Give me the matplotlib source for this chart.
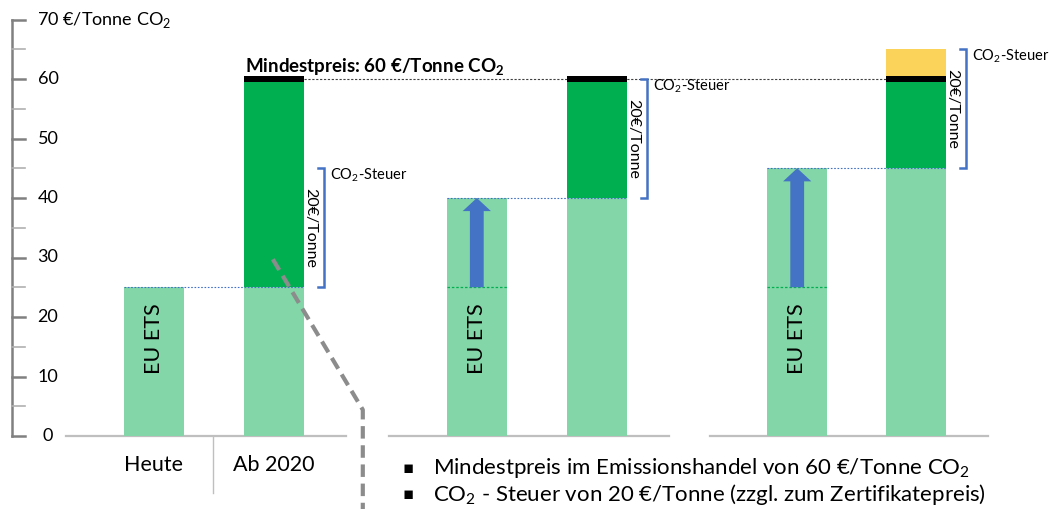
import matplotlib
matplotlib.use('Agg')
import matplotlib.pyplot as plt
import numpy as np

plt.rcParams['font.family'] = ['Lato', 'DejaVu Sans']
plt.rcParams['mathtext.fontset'] = 'custom'
plt.rcParams['mathtext.rm'] = 'Lato'
plt.rcParams['mathtext.bf'] = 'Lato:bold'

# data
categories = ["Heute", "Ab 2020"]
ets_price = [25, 25, 40, 40, 45, 45]      # EU ETS Zertifikatepreis
floor_price = [0, 60, 0, 60, 0, 60]       # Mindestpreis
tax_top = [0, 0, 0, 0, 0, 65]             # Steuer ueber Mindestpreis
ets_start = 25
tax = 20
yticks = [0, 10, 20, 30, 40, 50, 60]

# layout (axis units: 1 = distance between bars of one panel)
xpos = np.array([0, 1, 2.69, 3.69, 5.36, 6.35])
bar_w = 0.5
light = '#82D6A7'
dark = '#00B050'
yellow = '#FCD35A'
blue = '#4472C4'
gray = '#808080'

fig = plt.figure(figsize=(10.5, 5.09), dpi=100)
ax = fig.add_axes([0, 0, 1, 1])
ax.set_xlim(-154 / 120, (1050 - 154) / 120)
ax.set_ylim(-73 / 5.95, 436 / 5.95)
ax.axis('off')

# bars
ax.bar(xpos, ets_price, width=bar_w, color=light, zorder=2)
for i in range(len(xpos)):
    if floor_price[i] > 0:
        ax.bar(xpos[i], floor_price[i] - ets_price[i], bottom=ets_price[i],
               width=bar_w, color=dark, zorder=2)
        ax.bar(xpos[i], 0.95, bottom=floor_price[i] - 0.45, width=bar_w,
               color='black', zorder=3)
    if tax_top[i] > 0:
        ax.bar(xpos[i], tax_top[i] - floor_price[i] - 0.5,
               bottom=floor_price[i] + 0.5, width=bar_w, color=yellow, zorder=2)

# Mindestpreis line
ax.plot([xpos[1] + bar_w / 2, xpos[5] - bar_w / 2], [60, 60], color='#404040',
        linestyle=(0, (2, 1.5)), linewidth=0.8, zorder=1)
ax.text(xpos[1] - bar_w / 2 + 0.01, 61.0, r"Mindestpreis: 60 €/Tonne CO$_\mathbf{2}$",
        fontsize=13.5, fontweight='bold', ha='left', va='baseline')

for p in range(3):
    l, r = xpos[2 * p], xpos[2 * p + 1]
    # blue dotted level line
    ax.plot([l - bar_w / 2, r + bar_w / 2], [ets_price[2 * p]] * 2, color=blue,
            linestyle=(0, (1.5, 1.5)), linewidth=0.8, zorder=4)
    # baseline
    ax.plot([l - 0.73, r + 0.6], [0, 0], color='#BFBFBF', linewidth=1.6, zorder=1)
    # EU ETS label
    ax.text(l, 16.3, "EU ETS", rotation=90, fontsize=15.5, ha='center', va='center',
            zorder=5)
    # bracket for tax
    lo = ets_price[2 * p]
    hi = lo + tax
    bx = r + 0.42
    ax.plot([r + 0.365, bx, bx, r + 0.365], [hi, hi, lo, lo], color=blue,
            linewidth=1.8, solid_joinstyle='miter', zorder=4)
    ax.text(bx + 0.05, hi + 0.3, r"CO$_2$-Steuer", fontsize=10.5, ha='left', va='top')
    ax.text(r + 0.3, (lo + hi) / 2, "20€/Tonne", rotation=-90, fontsize=11.5,
            ha='center', va='center')
    # arrow + dashed start level in panels 2 and 3
    if p > 0:
        ax.plot([l - bar_w / 2, l + bar_w / 2], [ets_start] * 2, color=dark,
                linestyle=(0, (2, 1.5)), linewidth=0.9, zorder=4)
        ax.arrow(l, ets_start, 0, lo - ets_start, width=0.115, head_width=0.235,
                 head_length=2.2, length_includes_head=True, color=blue,
                 linewidth=0, zorder=5)

# gray dashed connector
ax.plot([0.99, 1.74, 1.74], [29.7, 4.4, -13], color='#8C8C8C', linewidth=3,
        linestyle=(0, (3, 1.6)), zorder=6)

# y axis
ax_x = -142 / 120
ax.plot([ax_x, ax_x], [0, 70], color=gray, linewidth=1.8, zorder=3)
for v in range(0, 71, 5):
    ax.plot([ax_x, ax_x + 0.11], [v, v], color=gray if v % 10 == 0 else '#B0B0B0',
            linewidth=1.8 if v % 10 == 0 else 1.2, zorder=3)
for v in yticks:
    ax.text(-106 / 120, v, str(v), fontsize=13, ha='center', va='center')
ax.text(-117 / 120, 70, r"70 €/Tonne CO$_2$", fontsize=13, ha='left', va='center')

# category labels panel 1
ax.plot([0.49, 0.49], [0, -9.6], color='#BFBFBF', linewidth=1)
for i, c in enumerate(categories):
    ax.text(xpos[i], -4.9, c, fontsize=15.5, ha='center', va='center')

# bullet list
lines = ["Mindestpreis im Emissionshandel von 60 €/Tonne CO$_2$",
         "CO$_2$ - Steuer von 20 €/Tonne (zzgl. zum Zertifikatepreis)"]
for k, t in enumerate(lines):
    y = -5.3 - 4.5 * k
    ax.text(2.12, y, "▪", fontsize=12, ha='center', va='center',
            family='DejaVu Sans')
    ax.text(2.325, y, t, fontsize=16, ha='left', va='center')

fig.savefig('out.png', dpi=100)
